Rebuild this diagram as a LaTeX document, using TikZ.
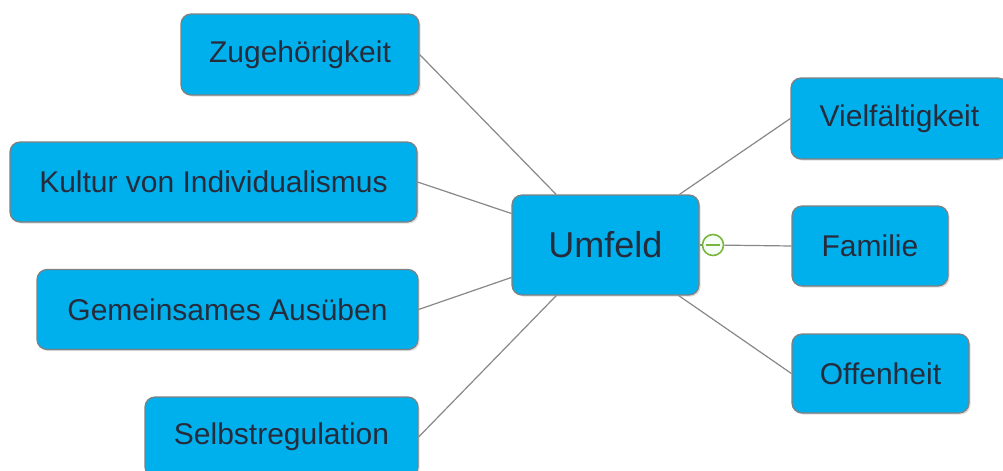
\documentclass[tikz,border=0pt]{standalone}
\usepackage{fontspec}
\setmainfont{Liberation Sans}
\usetikzlibrary{shadows}
\definecolor{boxfill}{RGB}{0,176,236}
\definecolor{boxline}{RGB}{128,128,128}
\definecolor{txt}{RGB}{38,44,60}
\definecolor{edge}{RGB}{136,136,136}
\definecolor{togglegreen}{RGB}{122,182,62}
\begin{document}
\begin{tikzpicture}[x=0.5pt,y=-0.5pt,
  topic/.style={draw=boxline, line width=0.6pt, fill=boxfill, rounded corners=5pt,
    text=txt, font=\fontsize{15}{18}\selectfont, inner sep=0pt,
    drop shadow={opacity=0.25, shadow xshift=0.8pt, shadow yshift=-0.8pt}},
  conn/.style={draw=edge, line width=0.6pt},
  toggle/.style={circle, draw=togglegreen, fill=green!4!white, line width=0.8pt,
    minimum size=10.5pt, inner sep=0pt}]
\useasboundingbox (0,0) rectangle (1003,471);
\clip (0,0) rectangle (1003,471);
% nodes
\node[topic, minimum width=119pt, minimum height=40.5pt] (zug) at (300,54.5) {Zugehörigkeit};
\node[topic, minimum width=203.5pt, minimum height=40pt] (kul) at (213.5,182) {Kultur von Individualismus};
\node[topic, minimum width=190.5pt, minimum height=40pt] (gem) at (227.5,309.5) {Gemeinsames Ausüben};
\node[topic, minimum width=136.5pt, minimum height=40pt] (sel) at (281.5,437) {Selbstregulation};
\node[topic, minimum width=93.5pt, minimum height=50pt, font=\fontsize{18}{22}\selectfont] (um) at (605.5,245) {Umfeld};
\node[topic, minimum width=108.5pt, minimum height=40.5pt] (vie) at (899.5,118.5) {Vielfältigkeit};
\node[topic, minimum width=78pt, minimum height=40pt] (fam) at (870,246) {Familie};
\node[topic, minimum width=88.5pt, minimum height=39.5pt] (off) at (880.5,373.5) {Offenheit};
\node[toggle] (tg) at (713,245) {};
% connectors
\draw[conn] (zug.east) -- (um);
\draw[conn] (kul.east) -- (um);
\draw[conn] (gem.east) -- (um);
\draw[conn] (sel.east) -- (um);
\draw[conn] (vie.west) -- (um);
\draw[conn] (off.west) -- (um);
\draw[conn] (um.east) -- (tg);
\draw[conn] (tg) -- (fam.west);
\draw[togglegreen, line width=1.3pt] ([xshift=-3.5pt]tg.center) -- ([xshift=3.5pt]tg.center);
\end{tikzpicture}
\end{document}
